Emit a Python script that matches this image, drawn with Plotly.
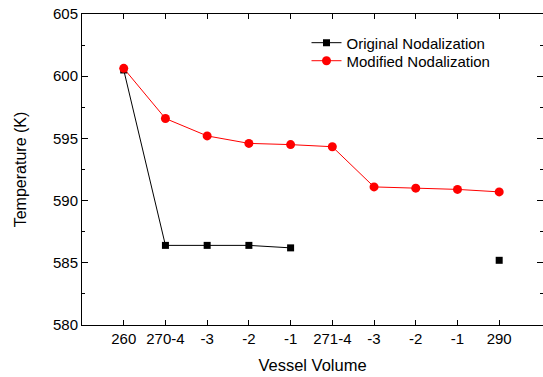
import plotly.graph_objects as go

categories = ["260", "270-4", "-3", "-2", "-1", "271-4", "-3", "-2", "-1", "290"]
original = [600.5, 586.4, 586.4, 586.4, 586.2, None, None, None, None, 585.2]
modified = [600.63, 596.6, 595.2, 594.6, 594.5, 594.33, 591.1, 591.0, 590.9, 590.7]
y_ticks = [580, 585, 590, 595, 600, 605]

xi = list(range(len(categories)))
FONT = "Liberation Sans, Arial, sans-serif"

fig = go.Figure()
fig.add_trace(go.Scatter(
    x=xi, y=original, mode="lines+markers", name="Original Nodalization",
    line=dict(color="black", width=1),
    marker=dict(symbol="square", size=7, color="black"),
    connectgaps=False, legend="legend",
))
fig.add_trace(go.Scatter(
    x=xi, y=modified, mode="lines+markers", name="Modified Nodalization",
    line=dict(color="red", width=1),
    marker=dict(symbol="circle", size=9, color="red"),
    legend="legend2",
))
# invisible trace for right-hand axis ticks
fig.add_trace(go.Scatter(x=[xi[0]], y=[y_ticks[0]], yaxis="y2", mode="markers",
                         marker=dict(opacity=0), showlegend=False, hoverinfo="skip"))

leg_common = dict(x=0.487, xanchor="left", yanchor="middle",
                  bgcolor="rgba(0,0,0,0)", font=dict(size=15, family=FONT),
                  itemwidth=30)

fig.update_layout(
    width=543, height=377,
    margin=dict(l=82, r=0, t=14, b=52),
    paper_bgcolor="white", plot_bgcolor="white",
    font=dict(family=FONT, size=15, color="black"),
    showlegend=True,
    legend=dict(y=0.907, **leg_common),
    legend2=dict(y=0.849, **leg_common),
    xaxis=dict(
        range=[-1, 10.05], tickvals=xi, ticktext=categories,
        showline=True, linecolor="black", linewidth=1, mirror="ticks",
        ticks="inside", ticklen=5, tickcolor="black",
        showgrid=False, zeroline=False,
        title=dict(text="Vessel Volume", font=dict(size=16.5, family=FONT), standoff=13),
        tickfont=dict(size=15, family=FONT),
    ),
    yaxis=dict(
        range=[580, 605], tickvals=y_ticks,
        showline=True, linecolor="black", linewidth=1,
        ticks="inside", ticklen=6, tickcolor="black",
        minor=dict(dtick=2.5, ticks="inside", ticklen=3, tickcolor="black", showgrid=False),
        showgrid=False, zeroline=False,
        title=dict(text="Temperature (K)", font=dict(size=16, family=FONT), standoff=22),
        tickfont=dict(size=15, family=FONT),
    ),
    yaxis2=dict(
        range=[580, 605], tickvals=y_ticks, overlaying="y", side="right",
        showline=False, showticklabels=False,
        ticks="inside", ticklen=6, tickcolor="black",
        minor=dict(dtick=2.5, ticks="inside", ticklen=3, tickcolor="black", showgrid=False),
        showgrid=False, zeroline=False,
    ),
)

fig.write_html("out.html")
